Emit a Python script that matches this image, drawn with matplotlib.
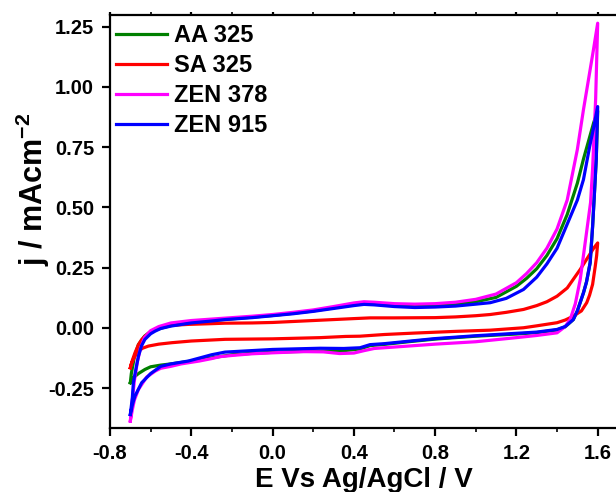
import matplotlib
matplotlib.use("Agg")
import matplotlib.pyplot as plt
from matplotlib.ticker import MultipleLocator, FormatStrFormatter

plt.rcParams["font.family"] = ["Liberation Sans", "DejaVu Sans"]
plt.rcParams["font.weight"] = "bold"
plt.rcParams["mathtext.fontset"] = "custom"
plt.rcParams["mathtext.rm"] = "Liberation Sans:bold"
plt.rcParams["mathtext.bf"] = "Liberation Sans:bold"
plt.rcParams["mathtext.default"] = "bf"

labels = ["AA 325", "SA 325", "ZEN 378", "ZEN 915"]
colors = ["#008000", "#FF0000", "#FF00FF", "#0000FF"]

# ---- AA 325 : anodic (forward) and cathodic (reverse) sweeps ----
aa_E_fwd = [-0.70, -0.695, -0.68, -0.66, -0.63, -0.60, -0.55, -0.50, -0.40, -0.30, -0.20,
            -0.10, 0.0, 0.10, 0.20, 0.30, 0.40, 0.45, 0.50, 0.60, 0.70, 0.80, 0.90, 1.00,
            1.10, 1.20, 1.25, 1.30, 1.35, 1.40, 1.45, 1.50, 1.53, 1.56, 1.58, 1.60]
aa_j_fwd = [-0.228, -0.19, -0.12, -0.07, -0.035, -0.016, -0.002, 0.009, 0.022, 0.030, 0.037,
            0.044, 0.051, 0.060, 0.070, 0.083, 0.097, 0.102, 0.100, 0.094, 0.091, 0.093, 0.098,
            0.108, 0.126, 0.172, 0.205, 0.245, 0.30, 0.37, 0.47, 0.60, 0.70, 0.79, 0.85, 0.90]
aa_E_rev = [1.60, 1.593, 1.585, 1.575, 1.563, 1.545, 1.53, 1.50, 1.48, 1.44, 1.40, 1.30,
            1.20, 1.00, 0.80, 0.68, 0.55, 0.48, 0.43, 0.35, 0.25, 0.10, 0.0, -0.10, -0.20,
            -0.30, -0.40, -0.50, -0.55, -0.60, -0.628, -0.66, -0.685, -0.70]
aa_j_rev = [0.90, 0.70, 0.573, 0.42, 0.27, 0.19, 0.145, 0.07, 0.034, 0.004, -0.009, -0.020,
            -0.026, -0.035, -0.047, -0.057, -0.069, -0.074, -0.088, -0.095, -0.097, -0.099,
            -0.102, -0.106, -0.112, -0.125, -0.138, -0.150, -0.155, -0.162, -0.173, -0.19,
            -0.207, -0.228]

# ---- SA 325 ----
sa_E_fwd = [-0.70, -0.69, -0.677, -0.66, -0.645, -0.628, -0.60, -0.562, -0.50, -0.414,
            -0.30, -0.234, -0.10, 0.0, 0.20, 0.40, 0.48, 0.60, 0.80, 0.90, 1.00, 1.071, 1.15,
            1.235, 1.30, 1.35, 1.40, 1.45, 1.514, 1.55, 1.58, 1.60]
sa_j_fwd = [-0.166, -0.135, -0.104, -0.07, -0.05, -0.035, -0.015, 0.0, 0.010, 0.014,
            0.017, 0.019, 0.020, 0.022, 0.030, 0.038, 0.041, 0.041, 0.042, 0.045, 0.050, 0.055,
            0.064, 0.076, 0.092, 0.108, 0.131, 0.165, 0.242, 0.29, 0.33, 0.352]
sa_E_rev = [1.60, 1.595, 1.588, 1.575, 1.56, 1.546, 1.52, 1.48, 1.44, 1.40, 1.30, 1.235,
            1.17, 1.071, 0.90, 0.70, 0.55, 0.43, 0.36, 0.234, 0.0, -0.234, -0.40, -0.496,
            -0.56, -0.611, -0.64, -0.66, -0.675, -0.685, -0.695, -0.70]
sa_j_rev = [0.352, 0.30, 0.255, 0.18, 0.135, 0.104, 0.07, 0.048, 0.032, 0.021, 0.008, 0.0,
            -0.004, -0.010, -0.015, -0.022, -0.028, -0.035, -0.036, -0.041, -0.046, -0.048,
            -0.055, -0.062, -0.068, -0.076, -0.085, -0.097, -0.115, -0.131, -0.15, -0.166]

# ---- ZEN 378 ----
z378_E_fwd = [-0.70, -0.69, -0.68, -0.665, -0.65, -0.63, -0.60, -0.56, -0.50, -0.40, -0.30,
              -0.20, -0.10, 0.0, 0.10, 0.20, 0.30, 0.40, 0.45, 0.50, 0.60, 0.70, 0.80, 0.90,
              1.00, 1.10, 1.20, 1.25, 1.30, 1.35, 1.40, 1.45, 1.50, 1.53, 1.55, 1.58, 1.60]
z378_j_fwd = [-0.387, -0.30, -0.22, -0.14, -0.085, -0.04, -0.012, 0.005, 0.020, 0.030, 0.036,
              0.042, 0.048, 0.055, 0.064, 0.074, 0.088, 0.103, 0.108, 0.106, 0.100, 0.098,
              0.100, 0.106, 0.118, 0.140, 0.187, 0.225, 0.27, 0.33, 0.41, 0.53, 0.74, 0.905,
              1.006, 1.158, 1.264]
z378_E_rev = [1.60, 1.59, 1.575, 1.565, 1.547, 1.53, 1.514, 1.49, 1.465, 1.44, 1.40, 1.30,
              1.20, 1.00, 0.80, 0.60, 0.50, 0.45, 0.40, 0.33, 0.25, 0.15, 0.0, -0.10, -0.20,
              -0.26, -0.30, -0.36, -0.45, -0.50, -0.55, -0.578, -0.62, -0.66, -0.68, -0.69,
              -0.70]
z378_j_rev = [1.264, 0.95, 0.66, 0.52, 0.407, 0.30, 0.20, 0.10, 0.035, 0.005, -0.021, -0.032,
              -0.041, -0.058, -0.068, -0.080, -0.086, -0.095, -0.105, -0.107, -0.100, -0.099,
              -0.104, -0.108, -0.115, -0.12, -0.128, -0.138, -0.150, -0.160, -0.168, -0.18,
              -0.205, -0.256, -0.30, -0.34, -0.387]

# ---- ZEN 915 ----
z915_E_fwd = [-0.70, -0.69, -0.685, -0.67, -0.66, -0.645, -0.628, -0.60, -0.578, -0.55, -0.50,
              -0.40, -0.30, -0.234, -0.10, 0.0, 0.10, 0.20, 0.30, 0.40, 0.45, 0.50, 0.60, 0.70,
              0.80, 0.90, 1.00, 1.071, 1.15, 1.235, 1.30, 1.35, 1.40, 1.45, 1.50, 1.53, 1.56,
              1.58, 1.60]
z915_j_fwd = [-0.36, -0.29, -0.228, -0.16, -0.118, -0.075, -0.048, -0.025, -0.014, -0.003,
              0.007, 0.020, 0.028, 0.034, 0.042, 0.050, 0.058, 0.068, 0.080, 0.092, 0.097,
              0.095, 0.088, 0.084, 0.086, 0.090, 0.098, 0.104, 0.122, 0.159, 0.21, 0.265,
              0.33, 0.43, 0.53, 0.615, 0.75, 0.83, 0.918]
z915_E_rev = [1.60, 1.593, 1.585, 1.575, 1.563, 1.545, 1.53, 1.50, 1.48, 1.44, 1.40, 1.30,
              1.20, 1.00, 0.80, 0.68, 0.55, 0.48, 0.43, 0.35, 0.234, 0.0, -0.234, -0.30,
              -0.414, -0.50, -0.55, -0.60, -0.644, -0.677, -0.69, -0.70]
z915_j_rev = [0.918, 0.70, 0.573, 0.42, 0.27, 0.19, 0.145, 0.07, 0.034, 0.005, -0.007, -0.018,
              -0.023, -0.033, -0.045, -0.055, -0.066, -0.070, -0.083, -0.086, -0.085, -0.090,
              -0.101, -0.112, -0.138, -0.150, -0.160, -0.19, -0.228, -0.283, -0.32, -0.36]

series = [
    (aa_E_fwd + aa_E_rev, aa_j_fwd + aa_j_rev),
    (sa_E_fwd + sa_E_rev, sa_j_fwd + sa_j_rev),
    (z378_E_fwd + z378_E_rev, z378_j_fwd + z378_j_rev),
    (z915_E_fwd + z915_E_rev, z915_j_fwd + z915_j_rev),
]

fig = plt.figure(figsize=(6.16, 4.92), dpi=100)
ax = fig.add_axes([110 / 616, 64 / 492, 508 / 616, 413 / 492])

for (E, j), lab, col in zip(series, labels, colors):
    ax.plot(E, j, color=col, lw=2.3, label=lab, solid_joinstyle="round")

ax.set_xlim(-0.8, 1.7)
ax.set_ylim(-0.416, 1.298)
ax.xaxis.set_major_locator(MultipleLocator(0.4))
ax.xaxis.set_minor_locator(MultipleLocator(0.2))
ax.yaxis.set_major_locator(MultipleLocator(0.25))
ax.xaxis.set_major_formatter(FormatStrFormatter("%.1f"))
ax.yaxis.set_major_formatter(FormatStrFormatter("%.2f"))

for s in ax.spines.values():
    s.set_linewidth(1.6)
ax.spines["right"].set_visible(False)

ax.tick_params(axis="both", which="major", direction="out", length=5.5, width=1.6,
               labelsize=14.5, pad=6)
ax.tick_params(axis="x", which="minor", direction="out", length=3, width=1.2)
ax.tick_params(axis="x", which="both", top=True)
for t in ax.xaxis.get_major_ticks() + ax.xaxis.get_minor_ticks():
    t.tick2line.set_markersize(2.5)
for lbl in ax.get_xticklabels() + ax.get_yticklabels():
    lbl.set_fontweight("bold")

ax.set_xlabel("E Vs Ag/AgCl / V", fontsize=20, fontweight="bold")
ax.set_ylabel(r"j / mAcm$^{-2}$", fontsize=22, fontweight="bold")
ax.xaxis.set_label_coords(0.5, -0.095)
ax.yaxis.set_label_coords(-0.114, 0.579)

leg = ax.legend(loc="upper left", bbox_to_anchor=(0.012, 0.978), frameon=False,
                borderpad=0, borderaxespad=0, handlelength=2.15, handletextpad=0.3,
                labelspacing=0.3, prop={"size": 17, "weight": "bold"})
for h in leg.get_lines():
    h.set_linewidth(2.3)

fig.savefig("out.png", dpi=100)
